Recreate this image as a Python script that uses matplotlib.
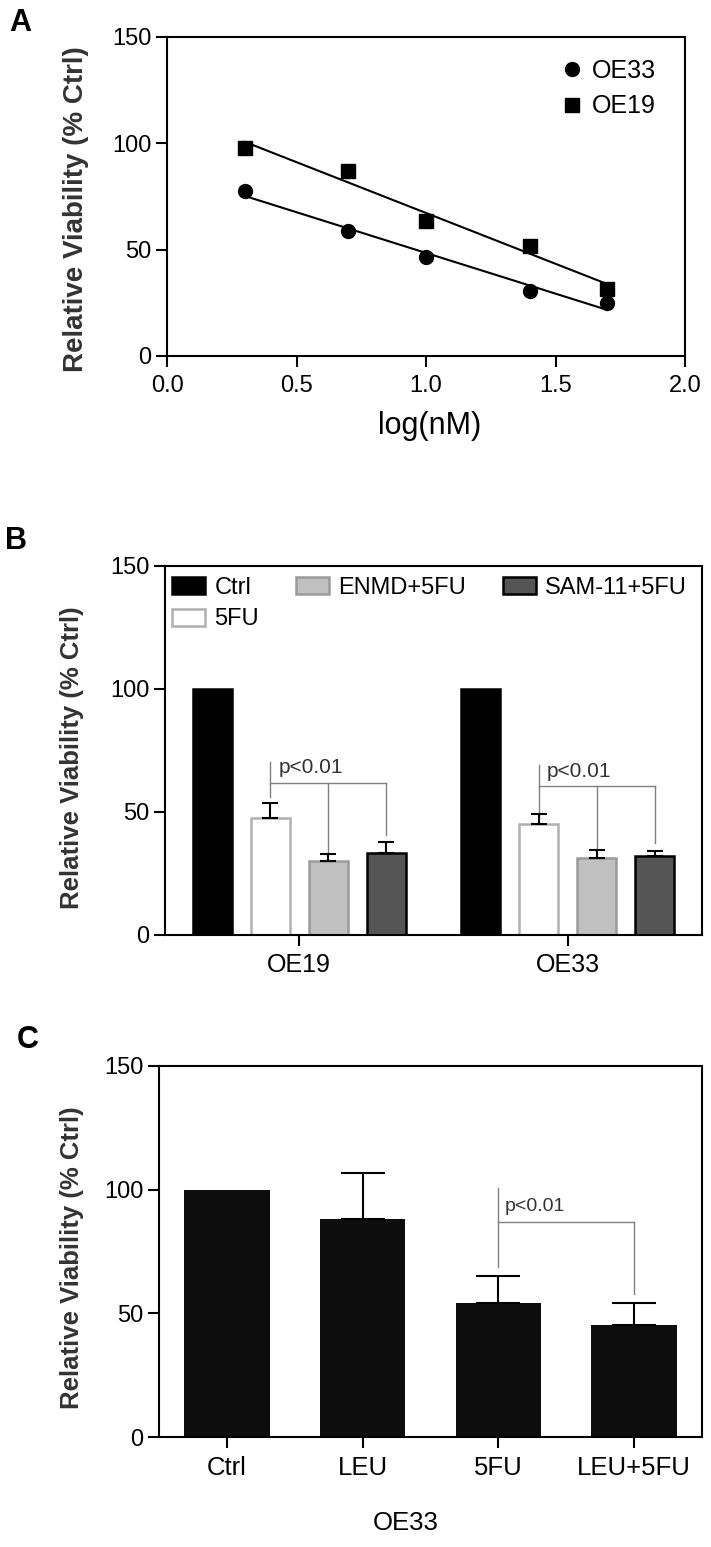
import matplotlib
matplotlib.use("Agg")
import matplotlib.pyplot as plt
import numpy as np

plt.rcParams["font.family"] = ["Liberation Sans", "DejaVu Sans"]

# panel A: dose response
log_nm = [0.3, 0.7, 1.0, 1.4, 1.7]
oe33_a = [77.5, 59, 46.5, 30.5, 25]
oe19_a = [98, 87, 63.5, 51.5, 31.5]

# panel B: combination treatments
lines_b = ["OE19", "OE33"]
treat_b = ["Ctrl", "5FU", "ENMD+5FU", "SAM-11+5FU"]
mean_b = {"Ctrl": [100, 100], "5FU": [47.6, 45.0],
          "ENMD+5FU": [30.0, 31.1], "SAM-11+5FU": [33.4, 32.3]}
err_b = {"Ctrl": [0, 0], "5FU": [6.1, 4.0],
         "ENMD+5FU": [2.8, 3.3], "SAM-11+5FU": [4.6, 2.0]}

# panel C: OE33 with LEU
treat_c = ["Ctrl", "LEU", "5FU", "LEU+5FU"]
mean_c = [100, 88.2, 54.0, 45.1]
err_c = [0, 18.4, 11.2, 9.1]

W, H = 711, 1547
fig = plt.figure(figsize=(W / 100, H / 100), dpi=100)
FT = fig.transFigure


def axes_px(l, t, r, b):
    return fig.add_axes([l / W, 1 - b / H, (r - l) / W, (b - t) / H])


def style(ax, ylab_x, ylab_y, ylab_size):
    for s in ax.spines.values():
        s.set_linewidth(1.5)
    ax.tick_params(direction="out", length=8, width=1.5, labelsize=17, pad=3)
    ax.set_ylim(0, 150)
    ax.set_yticks([0, 50, 100, 150])
    ax.set_ylabel("Relative Viability (% Ctrl)", fontsize=ylab_size,
                  fontweight="bold", color="#333333")
    ax.yaxis.set_label_coords(ylab_x / W, 1 - ylab_y / H, transform=FT)


# ---- A
ax = axes_px(167, 37, 685, 356)
ax.plot(log_nm, oe33_a, "o", color="black", ms=10, label="OE33")
ax.plot(log_nm, oe19_a, "s", color="black", ms=10, label="OE19")
xx = np.array([log_nm[0], log_nm[-1]])
for ys in (oe33_a, oe19_a):
    k, c = np.polyfit(log_nm, ys, 1)
    ax.plot(xx, k * xx + c, color="black", lw=1.5)
ax.set_xlim(0, 2)
ax.set_xticks([0, 0.5, 1.0, 1.5, 2.0])
ax.set_xticklabels(["0.0", "0.5", "1.0", "1.5", "2.0"])
style(ax, 89, 209, 20)
ax.tick_params(axis="x", pad=6)
ax.set_xlabel("log(nM)", fontsize=22)
ax.xaxis.set_label_coords(430 / W, 1 - 426 / H, transform=FT)
ax.xaxis.label.set_va("center")
ax.legend(loc="upper left", bbox_to_anchor=(558 / W, 1 - 59 / H), bbox_transform=FT,
          frameon=False, fontsize=18, handletextpad=0.25, labelspacing=0.45,
          borderpad=0, borderaxespad=0, handlelength=1.1)
fig.text(20 / W, 1 - 23 / H, "A", fontsize=22, fontweight="bold", ha="center", va="center")

# ---- B
ax = axes_px(165, 566, 702, 935)
pos = np.arange(len(lines_b))
offs = [-0.324, -0.108, 0.108, 0.324]
face = ["black", "white", "#c0c0c0", "#555555"]
edge = ["black", "#b0b0b0", "#9a9a9a", "black"]
for t, o, fc, ec in zip(treat_b, offs, face, edge):
    ax.bar(pos + o, mean_b[t], 0.145, color=fc, edgecolor=ec, linewidth=1.8,
           label=t, zorder=2)
    e = err_b[t]
    if max(e) > 0:
        ax.errorbar(pos + o, mean_b[t], yerr=[[0, 0], e], fmt="none",
                    ecolor="black", elinewidth=1.5, capsize=5.5, capthick=1.5, zorder=3)
ax.set_xlim(-0.5, 1.5)
ax.set_xticks(pos)
ax.set_xticklabels(lines_b)
style(ax, 84, 758, 18.5)
ax.tick_params(axis="x", labelsize=18, pad=5)
ax.legend(loc="upper left", bbox_to_anchor=(172 / W, 1 - 577 / H), bbox_transform=FT,
          ncol=3, frameon=False, fontsize=17, handlelength=1.4, handleheight=0.75,
          handletextpad=0.4, columnspacing=1.55, labelspacing=0.4, borderpad=0,
          borderaxespad=0)
gray = "#808080"
brk = [(70.4, 56.2, 61.6, 33.2, 40.6), (69.0, 47.4, 60.6, 35.2, 37.2)]
for g, (top, bot, hy, d1, d2) in zip(pos, brk):
    x0, x1, x2 = g + offs[1], g + offs[2], g + offs[3]
    ax.plot([x0, x0], [bot, top], color=gray, lw=1)
    ax.plot([x0, x2], [hy, hy], color=gray, lw=1)
    ax.plot([x1, x1], [hy, d1], color=gray, lw=1)
    ax.plot([x2, x2], [hy, d2], color=gray, lw=1)
    ax.text(x0 + 0.03, top - 2.5, "p<0.01", fontsize=15, color="#333333", va="center")
fig.text(16 / W, 1 - 541 / H, "B", fontsize=22, fontweight="bold", ha="center", va="center")

# ---- C
ax = axes_px(159, 1066, 702, 1437)
xc = np.arange(len(treat_c))
ax.bar(xc, mean_c, 0.63, color="#0d0d0d", zorder=2)
ax.errorbar(xc[1:], mean_c[1:], yerr=[[0] * 3, err_c[1:]], fmt="none",
            ecolor="black", elinewidth=1.5, capsize=16, capthick=1.5, zorder=3)
ax.set_xlim(-0.5, 3.5)
ax.set_xticks(xc)
ax.set_xticklabels(treat_c)
style(ax, 84, 1258, 18.5)
ax.tick_params(axis="x", labelsize=18.5, pad=6)
ax.plot([2, 2], [68.9, 100.8], color=gray, lw=1)
ax.plot([2, 3], [86.8, 86.8], color=gray, lw=1)
ax.plot([3, 3], [86.8, 57.7], color=gray, lw=1)
ax.text(2.05, 93, "p<0.01", fontsize=14, color="#333333", va="center")
fig.text(406 / W, 1 - 1523 / H, "OE33", fontsize=18.5, ha="center", va="center")
fig.text(28 / W, 1 - 1040 / H, "C", fontsize=22, fontweight="bold", ha="center", va="center")

fig.savefig("out.png", dpi=100)
